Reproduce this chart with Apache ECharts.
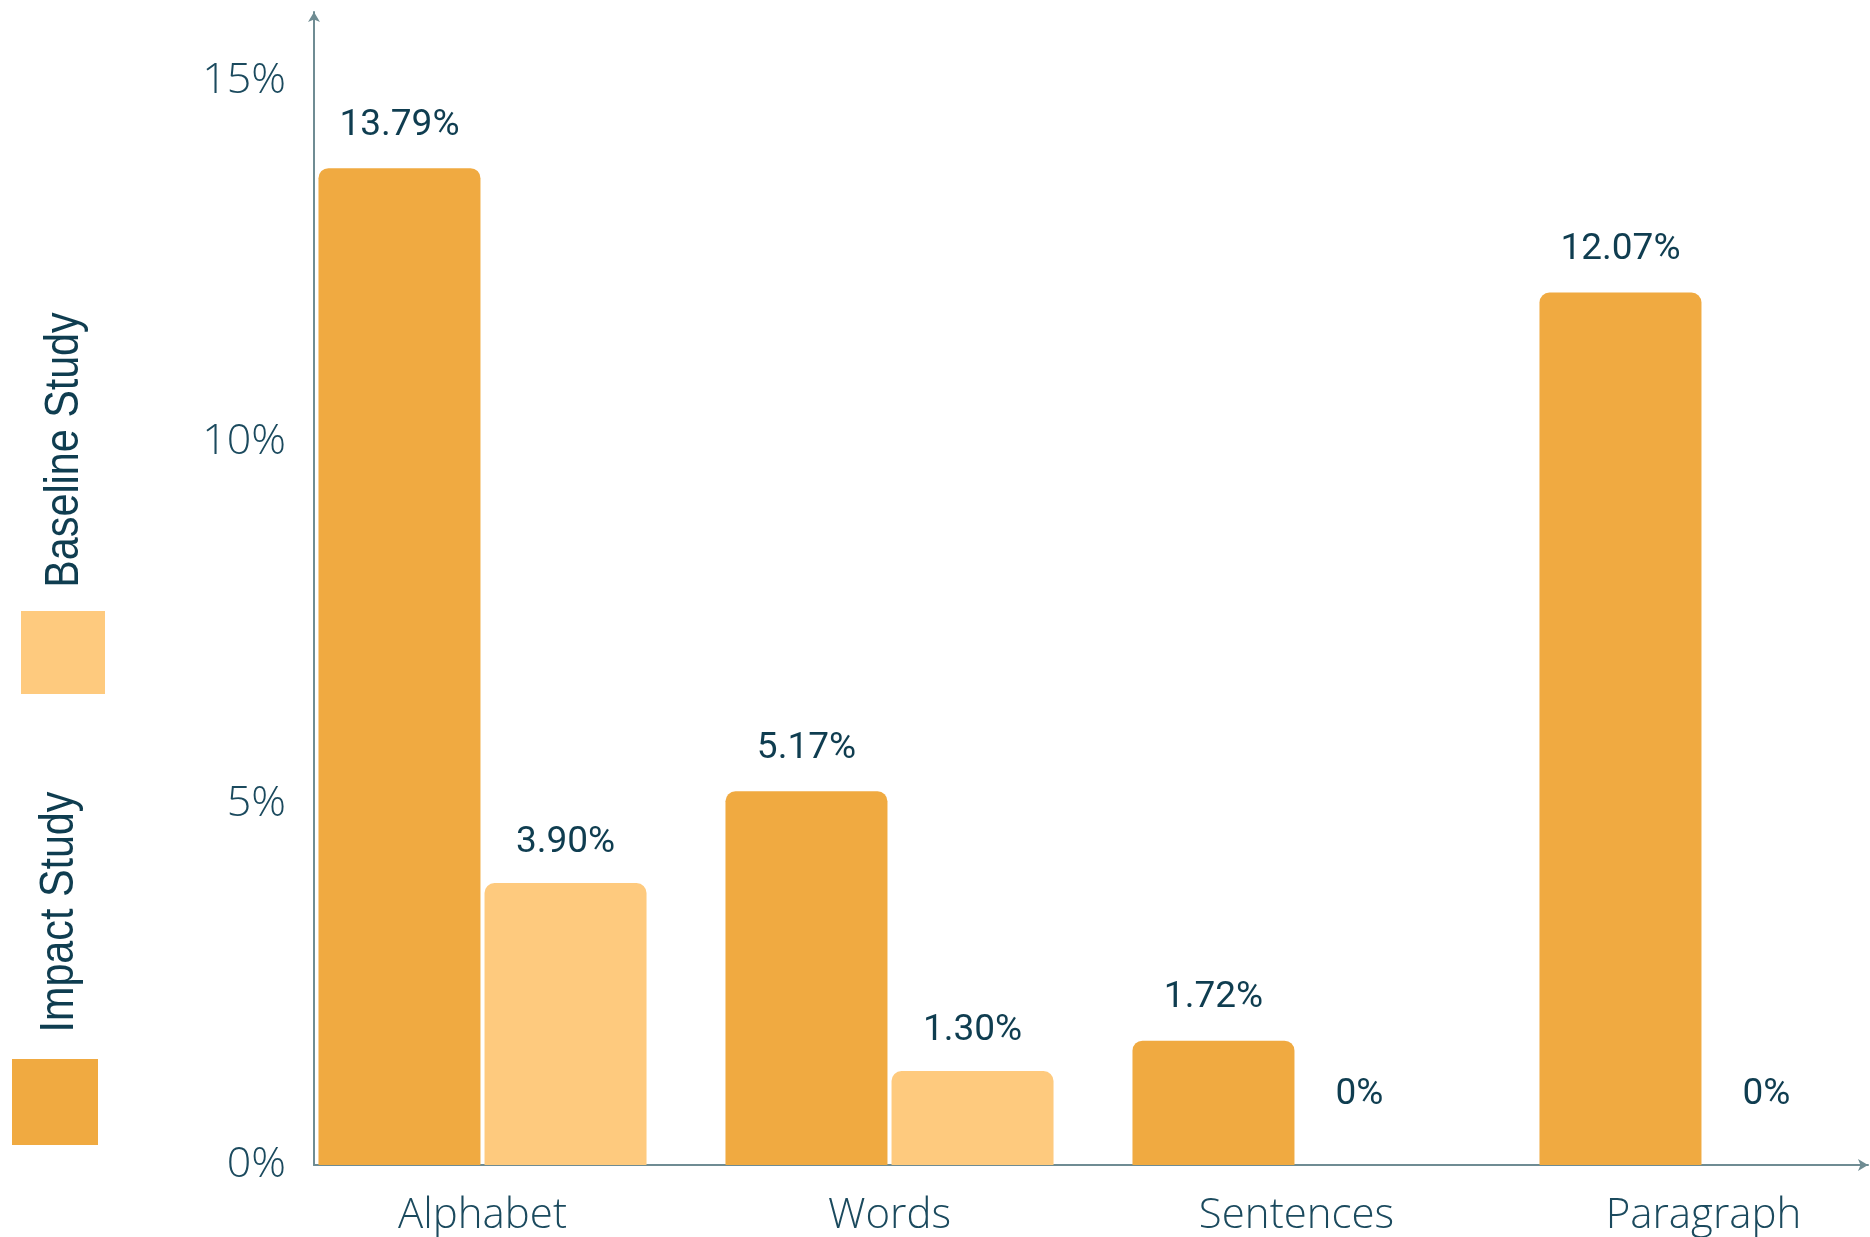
<!DOCTYPE html>
<html>
<head>
<meta charset="utf-8">
<script src="https://cdn.jsdelivr.net/npm/echarts@6/dist/echarts.min.js"></script>
<style>
html, body { margin: 0; padding: 0; background: #fff; }
#chart { width: 1870px; height: 1237px; }
</style>
</head>
<body>
<div id="chart"></div>
<script>
var categories = ['Alphabet', 'Words', 'Sentences', 'Paragraph'];
var impactValues = [13.79, 5.17, 1.72, 12.07];
var baselineValues = [3.90, 1.30, 0, 0];
var seriesNames = ['Impact Study', 'Baseline Study'];

var colors = ['#F0AA41', '#FECA7E'];
var textColor = '#0F3D50';
var axisColor = '#6F8C93';

(function()
{
	var mychart = echarts.init(document.getElementById('chart'));

	function barLabel(dist) {
		return {
			show: true,
			position: 'top',
			distance: dist,
			fontFamily: 'Roboto',
			fontSize: 37,
			color: textColor,
			formatter: function(p) {
				return p.value === 0 ? '0%' : p.value.toFixed(2) + '%';
			}
		};
	}

	// zero values sit a bit higher and left in the original
	function toData(values) {
		return values.map(function(v) {
			return v === 0 ? {value: v, label: {distance: 52, offset: [-20, 0]}} : v;
		});
	}

	function legendText(label, x, y) {
		return {
			type: 'text', x: x, y: y, rotation: Math.PI / 2, scaleX: 0.86,
			style: {
				text: label, align: 'center', verticalAlign: 'middle',
				fontFamily: 'Liberation Sans', fontSize: 48, fill: textColor
			}
		};
	}

	var option = {
		animation: false,
		grid: [
			{left: 279, width: 1628, top: 12, bottom: 72, outerBoundsMode: 'none'},  // bars
			{left: 314, right: 2, top: 12, bottom: 72, outerBoundsMode: 'none'}      // axis lines
		],
		xAxis: [
			{
				type: 'category',
				gridIndex: 0,
				data: categories,
				axisLine: {show: false},
				axisTick: {show: false},
				axisLabel: {
					margin: 30,
					fontFamily: 'Open Sans',
					fontWeight: 300,
					fontSize: 42,
					color: '#1B4A5E'
				}
			},
			{
				type: 'value',
				gridIndex: 1,
				min: 0,
				max: 1,
				axisLine: {
					show: true,
					symbol: ['none', 'arrow'],
					symbolSize: [9, 10],
					lineStyle: {color: axisColor, width: 2}
				},
				axisTick: {show: false},
				axisLabel: {show: false},
				splitLine: {show: false}
			}
		],
		yAxis: [
			{
				type: 'value',
				gridIndex: 0,
				min: 0,
				max: 15.95,
				show: false
			},
			{
				type: 'value',
				gridIndex: 1,
				min: 0,
				max: 15.95,
				interval: 5,
				axisLine: {
					show: true,
					symbol: ['none', 'arrow'],
					symbolSize: [9, 10],
					lineStyle: {color: axisColor, width: 2}
				},
				axisTick: {show: false},
				splitLine: {show: false},
				axisLabel: {
					margin: 28,
					fontFamily: 'Open Sans',
					fontWeight: 300,
					fontSize: 43,
					color: '#1B4A5E',
					formatter: function(v) {
						return v % 5 === 0 ? v + '%' : '';
					}
				}
			}
		],
		series: [
			{
				name: seriesNames[0],
				type: 'bar',
				xAxisIndex: 0,
				yAxisIndex: 0,
				barWidth: 162,
				barGap: '2.5%',
				itemStyle: {color: colors[0], borderRadius: [10, 10, 0, 0]},
				label: barLabel(24),
				data: toData(impactValues)
			},
			{
				name: seriesNames[1],
				type: 'bar',
				xAxisIndex: 0,
				yAxisIndex: 0,
				barWidth: 162,
				barGap: '2.5%',
				itemStyle: {color: colors[1], borderRadius: [10, 10, 0, 0]},
				label: barLabel(22),
				data: toData(baselineValues)
			}
		],
		graphic: [
			{type: 'rect', shape: {x: 21, y: 611, width: 84, height: 83}, style: {fill: colors[1]}},
			{type: 'rect', shape: {x: 12, y: 1059, width: 86, height: 86}, style: {fill: colors[0]}},
			legendText(seriesNames[1], 65, 450),
			legendText(seriesNames[0], 60, 912)
		]
	};
	mychart.setOption(option);
})();
</script>
</body>
</html>
